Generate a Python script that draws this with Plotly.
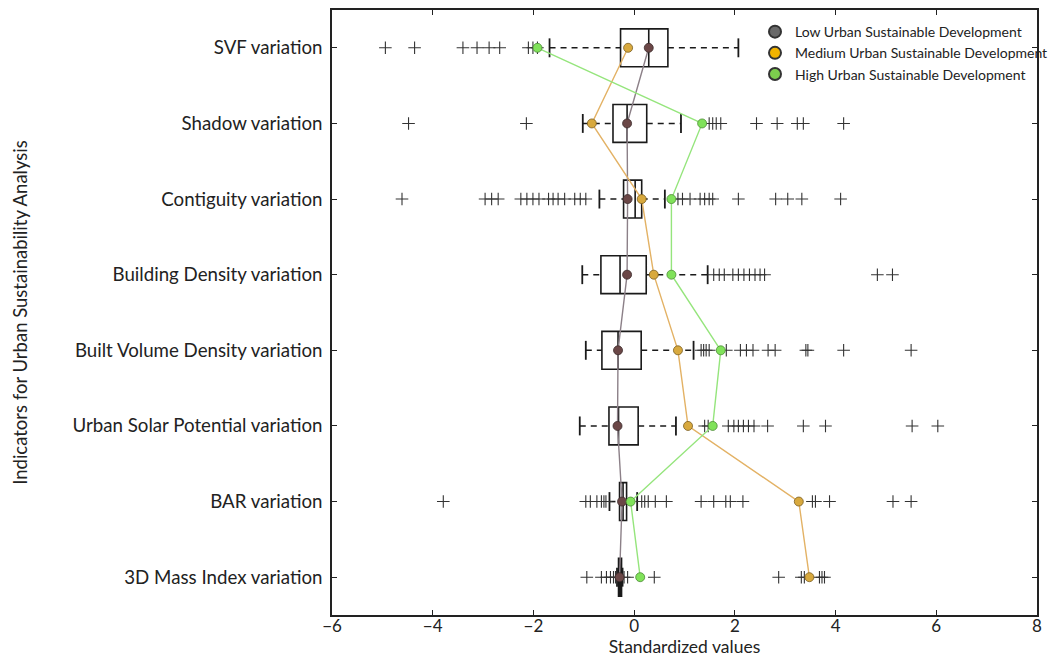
import plotly.graph_objects as go

# ---------------- data ----------------
indicators = ["3D Mass Index variation", "BAR variation", "Urban Solar Potential variation",
              "Built Volume Density variation", "Building Density variation",
              "Contiguity variation", "Shadow variation", "SVF variation"]
positions = [1, 2, 3, 4, 5, 6, 7, 8]

q1 = [-0.31, -0.29, -0.50, -0.64, -0.66, -0.21, -0.42, -0.27]
median = [-0.28, -0.22, -0.31, -0.32, -0.28, 0.02, -0.14, 0.29]
q3 = [-0.25, -0.15, 0.08, 0.14, 0.24, 0.15, 0.25, 0.67]
whisker_low = [-0.34, -0.49, -1.08, -0.96, -1.03, -0.69, -1.02, -1.68]
whisker_high = [-0.23, 0.06, 0.83, 1.18, 1.46, 0.61, 0.93, 2.07]

outliers = [
    [-0.94, -0.65, -0.55, -0.47, -0.41, -0.37, -0.20, -0.13, 0.40, 2.87, 3.32, 3.38, 3.68, 3.73, 3.78],
    [-3.79, -0.96, -0.87, -0.74, -0.65, -0.60, -0.56, 0.15, 0.21, 0.28, 0.42, 0.64, 1.33, 1.58,
     1.82, 1.91, 2.16, 3.54, 3.60, 3.88, 5.14, 5.50],
    [1.40, 1.47, 1.87, 1.98, 2.07, 2.17, 2.27, 2.38, 2.65, 3.36, 3.80, 5.52, 6.03],
    [1.33, 1.38, 1.43, 1.49, 1.83, 2.11, 2.23, 2.36, 2.66, 2.80, 3.41, 3.45, 4.16, 5.50],
    [1.58, 1.69, 1.79, 1.96, 2.07, 2.18, 2.29, 2.40, 2.50, 2.59, 4.83, 5.13],
    [-4.61, -2.96, -2.83, -2.70, -2.25, -2.13, -2.01, -1.89, -1.70, -1.61, -1.51, -1.38, -1.18,
     -1.07, -0.96, 0.87, 0.96, 1.11, 1.31, 1.40, 1.49, 1.56, 2.07, 2.81, 3.05, 3.33, 4.10],
    [-4.48, -2.14, 1.49, 1.56, 1.63, 1.72, 2.43, 2.84, 3.24, 3.36, 4.16],
    [-4.94, -4.36, -3.40, -3.12, -2.88, -2.67, -2.10, -2.01, -1.92],
]

low_dev = [-0.29, -0.24, -0.33, -0.32, -0.14, -0.13, -0.14, 0.29]
medium_dev = [3.48, 3.27, 1.07, 0.87, 0.39, 0.15, -0.84, -0.12]
high_dev = [0.12, -0.07, 1.56, 1.72, 0.74, 0.74, 1.35, -1.92]

series_names = ["Low Urban Sustainable Development",
                "Medium Urban Sustainable Development",
                "High Urban Sustainable Development"]

x_ticks = [-6, -4, -2, 0, 2, 4, 6, 8]

# ---------------- figure ----------------
FONT = "Lato"
fig = go.Figure()

# boxes
fig.add_trace(go.Box(
    y=positions, q1=q1, median=median, q3=q3,
    lowerfence=q1, upperfence=q3,
    orientation="h", width=0.5, boxpoints=False,
    line=dict(color="#1a1a1a", width=1.6),
    fillcolor="rgba(255,255,255,0)",
    showlegend=False, hoverinfo="skip"))

# whiskers (dashed) and caps
wx, wy, cx, cy = [], [], [], []
for p, lo, a, b, hi in zip(positions, whisker_low, q1, q3, whisker_high):
    wx += [lo, a, None, b, hi, None]
    wy += [p, p, None, p, p, None]
    cx += [lo, lo, None, hi, hi, None]
    cy += [p - 0.125, p + 0.125, None, p - 0.125, p + 0.125, None]
fig.add_trace(go.Scatter(x=wx, y=wy, mode="lines",
                         line=dict(color="#1a1a1a", width=1.6, dash="6px,5px"),
                         showlegend=False, hoverinfo="skip"))
fig.add_trace(go.Scatter(x=cx, y=cy, mode="lines",
                         line=dict(color="#1a1a1a", width=1.8),
                         showlegend=False, hoverinfo="skip"))

# outliers
ox, oy = [], []
for p, vals in zip(positions, outliers):
    ox += vals
    oy += [p] * len(vals)
fig.add_trace(go.Scatter(x=ox, y=oy, mode="markers",
                         marker=dict(symbol="cross-thin", size=9,
                                     line=dict(color="#333333", width=1.1)),
                         showlegend=False, hoverinfo="skip"))

# group lines
fig.add_trace(go.Scatter(x=low_dev, y=positions, mode="lines+markers",
                         line=dict(color="#8c8088", width=1.4),
                         marker=dict(size=9, color="#6b4747", line=dict(color="#3a2a2a", width=0.8)),
                         showlegend=False))
fig.add_trace(go.Scatter(x=medium_dev, y=positions, mode="lines+markers",
                         line=dict(color="#e3b265", width=1.4),
                         marker=dict(size=9, color="#d8a93e", line=dict(color="#7a5d20", width=0.8)),
                         showlegend=False))
fig.add_trace(go.Scatter(x=high_dev, y=positions, mode="lines+markers",
                         line=dict(color="#95e57c", width=1.4),
                         marker=dict(size=9, color="#80e25a", line=dict(color="#4b8a35", width=0.8)),
                         showlegend=False))

# legend entries
for name, col in zip(series_names, ["#6a6a6a", "#f3b400", "#7ccd4d"]):
    fig.add_trace(go.Scatter(x=[None], y=[None], mode="markers", name=name,
                             marker=dict(size=12, color=col, line=dict(color="#333333", width=1))))

axis_common = dict(showline=True, linecolor="#222222", linewidth=1.5, mirror="allticks",
                   ticks="inside", ticklen=5, tickcolor="#222222", showgrid=False,
                   zeroline=False)

fig.update_layout(
    width=1055, height=657,
    margin=dict(l=332, r=2, t=10, b=42),
    paper_bgcolor="white", plot_bgcolor="white",
    boxmode="overlay",
    font=dict(family=FONT, color="#222222"),
    xaxis=dict(range=[-6, 8], tickvals=x_ticks, ticklabelstandoff=-5,
               tickfont=dict(family=FONT, size=17, color="#222222"),
               title=dict(text="Standardized values", font=dict(family=FONT, size=17.5), standoff=8),
               **axis_common),
    yaxis=dict(range=[0.5, 8.5], tickvals=positions, ticktext=indicators,
               ticklabelstandoff=4,
               tickfont=dict(family=FONT, size=18.7, color="#222222"),
               title=dict(text="Indicators for Urban Sustainability Analysis",
                          font=dict(family=FONT, size=18.5), standoff=40),
               **axis_common),
    legend=dict(x=0.6, y=0.99, xanchor="left", yanchor="top",
                bgcolor="rgba(255,255,255,0)", font=dict(family=FONT, size=14, color="#222222"),
                tracegroupgap=0, itemsizing="constant"),
)

fig.write_html("out.html", config={"displayModeBar": False},
               post_script="document.body.style.margin='0';document.body.style.overflow='hidden';")
